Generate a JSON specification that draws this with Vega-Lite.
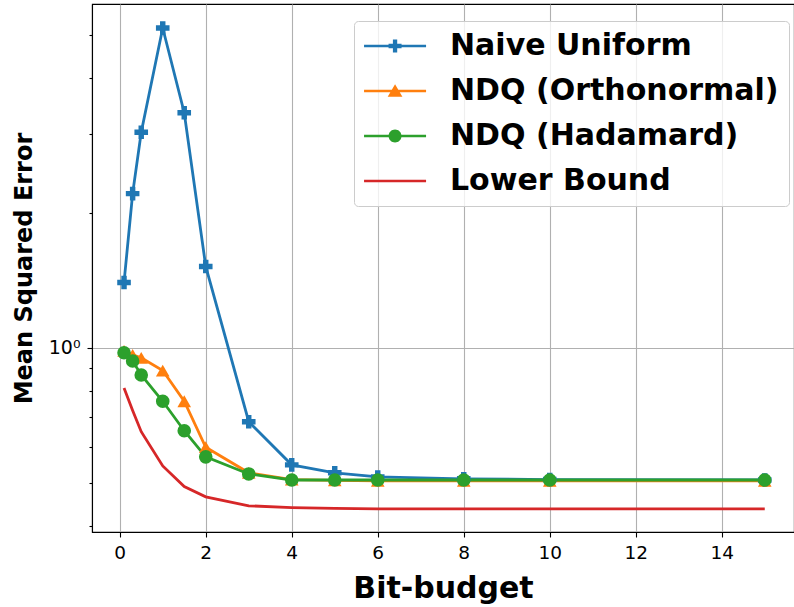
{
  "$schema": "https://vega.github.io/schema/vega-lite/v6.json",
  "width": 702,
  "height": 528,
  "autosize": "none",
  "padding": {"left": 92, "top": 4, "right": 0, "bottom": 75},
  "background": "white",
  "config": {
    "font": "DejaVu Sans",
    "view": {"stroke": "black", "strokeWidth": 1.1},
    "axis": {
      "domainColor": "black", "tickColor": "black", "labelColor": "black", "titleColor": "black",
      "labelFont": "DejaVu Sans", "titleFont": "DejaVu Sans",
      "gridColor": "#b0b0b0", "gridWidth": 1.1, "domainWidth": 1.1, "tickWidth": 1.1
    }
  },
  "data": {
    "values": [
      {"series": "Naive Uniform", "x": 0.1, "y": 1.40},
      {"series": "Naive Uniform", "x": 0.3, "y": 2.21},
      {"series": "Naive Uniform", "x": 0.5, "y": 3.03},
      {"series": "Naive Uniform", "x": 1, "y": 5.18},
      {"series": "Naive Uniform", "x": 1.5, "y": 3.35},
      {"series": "Naive Uniform", "x": 2, "y": 1.52},
      {"series": "Naive Uniform", "x": 3, "y": 0.684},
      {"series": "Naive Uniform", "x": 4, "y": 0.548},
      {"series": "Naive Uniform", "x": 5, "y": 0.526},
      {"series": "Naive Uniform", "x": 6, "y": 0.515},
      {"series": "Naive Uniform", "x": 8, "y": 0.510},
      {"series": "Naive Uniform", "x": 10, "y": 0.508},
      {"series": "Naive Uniform", "x": 15, "y": 0.507},
      {"series": "NDQ (Orthonormal)", "x": 0.1, "y": 0.985},
      {"series": "NDQ (Orthonormal)", "x": 0.3, "y": 0.965},
      {"series": "NDQ (Orthonormal)", "x": 0.5, "y": 0.95},
      {"series": "NDQ (Orthonormal)", "x": 1, "y": 0.89},
      {"series": "NDQ (Orthonormal)", "x": 1.5, "y": 0.76},
      {"series": "NDQ (Orthonormal)", "x": 2, "y": 0.60},
      {"series": "NDQ (Orthonormal)", "x": 3, "y": 0.526},
      {"series": "NDQ (Orthonormal)", "x": 4, "y": 0.508},
      {"series": "NDQ (Orthonormal)", "x": 5, "y": 0.506},
      {"series": "NDQ (Orthonormal)", "x": 6, "y": 0.505},
      {"series": "NDQ (Orthonormal)", "x": 8, "y": 0.505},
      {"series": "NDQ (Orthonormal)", "x": 10, "y": 0.505},
      {"series": "NDQ (Orthonormal)", "x": 15, "y": 0.505},
      {"series": "NDQ (Hadamard)", "x": 0.1, "y": 0.975},
      {"series": "NDQ (Hadamard)", "x": 0.3, "y": 0.935},
      {"series": "NDQ (Hadamard)", "x": 0.5, "y": 0.87},
      {"series": "NDQ (Hadamard)", "x": 1, "y": 0.76},
      {"series": "NDQ (Hadamard)", "x": 1.5, "y": 0.653},
      {"series": "NDQ (Hadamard)", "x": 2, "y": 0.571},
      {"series": "NDQ (Hadamard)", "x": 3, "y": 0.523},
      {"series": "NDQ (Hadamard)", "x": 4, "y": 0.507},
      {"series": "NDQ (Hadamard)", "x": 5, "y": 0.507},
      {"series": "NDQ (Hadamard)", "x": 6, "y": 0.507},
      {"series": "NDQ (Hadamard)", "x": 8, "y": 0.507},
      {"series": "NDQ (Hadamard)", "x": 10, "y": 0.507},
      {"series": "NDQ (Hadamard)", "x": 15, "y": 0.507},
      {"series": "Lower Bound", "x": 0.1, "y": 0.814},
      {"series": "Lower Bound", "x": 0.3, "y": 0.725},
      {"series": "Lower Bound", "x": 0.5, "y": 0.65},
      {"series": "Lower Bound", "x": 1, "y": 0.545},
      {"series": "Lower Bound", "x": 1.5, "y": 0.49},
      {"series": "Lower Bound", "x": 2, "y": 0.465},
      {"series": "Lower Bound", "x": 3, "y": 0.444},
      {"series": "Lower Bound", "x": 4, "y": 0.44},
      {"series": "Lower Bound", "x": 5, "y": 0.438},
      {"series": "Lower Bound", "x": 6, "y": 0.437},
      {"series": "Lower Bound", "x": 8, "y": 0.437},
      {"series": "Lower Bound", "x": 10, "y": 0.437},
      {"series": "Lower Bound", "x": 15, "y": 0.437}
    ]
  },
  "encoding": {
    "x": {
      "field": "x", "type": "quantitative",
      "scale": {"domain": [-0.645, 15.68], "nice": false, "zero": false},
      "axis": {
        "values": [0, 2, 4, 6, 8, 10, 12, 14],
        "title": "Bit-budget", "titleFontSize": 30, "titleFontWeight": "bold",
        "labelFontSize": 18.5, "tickSize": 5, "labelPadding": 6, "titlePadding": 12,
        "grid": true, "labelFlush": false
      }
    },
    "y": {
      "field": "y", "type": "quantitative",
      "scale": {"type": "log", "domain": [0.388, 5.86], "nice": false},
      "axis": {
        "values": [0.4, 0.5, 0.6, 0.7, 0.8, 0.9, 1, 2, 3, 4, 5],
        "labelExpr": "datum.value == 1 ? '10⁰' : ''",
        "title": "Mean Squared Error", "titleFontSize": 24, "titleFontWeight": "bold",
        "labelFontSize": 19, "labelPadding": 7, "titlePadding": 12,
        "tickSize": {"condition": {"test": "datum.value == 1", "value": 5}, "value": 3},
        "grid": true,
        "gridOpacity": {"condition": {"test": "datum.value == 1", "value": 1}, "value": 0}
      }
    },
    "color": {
      "field": "series", "type": "nominal",
      "scale": {
        "domain": ["Naive Uniform", "NDQ (Orthonormal)", "NDQ (Hadamard)", "Lower Bound"],
        "range": ["#1f77b4", "#ff7f0e", "#2ca02c", "#d62728"]
      },
      "legend": {
        "orient": "none", "legendX": 262, "legendY": 17, "title": null,
        "padding": 10, "fillColor": "rgba(255,255,255,0.8)", "strokeColor": "#cccccc",
        "cornerRadius": 4,
        "labelFont": "DejaVu Sans", "labelFontWeight": "bold", "labelFontSize": 30,
        "labelColor": "black", "labelLimit": 600, "labelOffset": 56,
        "symbolSize": 169, "symbolStrokeWidth": 0, "rowPadding": 15,
        "encode": {
          "symbols": {
            "update": {
              "shape": {"signal": "datum.value === 'Naive Uniform' ? 'M-2.3,-0.2H7.24V0.2H-2.3Z M2.14,-1H2.8V-0.33H3.47V0.33H2.8V1H2.14V0.33H1.47V-0.33H2.14Z' : datum.value === 'NDQ (Orthonormal)' ? 'M-2.3,-0.2H7.24V0.2H-2.3Z M2.47,-1.05L3.6,0.9L1.34,0.9Z' : datum.value === 'NDQ (Hadamard)' ? 'M-2.3,-0.2H7.24V0.2H-2.3Z M1.47,0A1,1,0,1,1,3.47,0A1,1,0,1,1,1.47,0Z' : 'M-2.3,-0.2H7.24V0.2H-2.3Z'"},
              "fill": {"scale": "color", "field": "value"},
              "strokeWidth": {"value": 0},
              "opacity": {"value": 1}
            }
          }
        }
      }
    }
  },
  "layer": [
    {
      "mark": {"type": "line", "strokeWidth": 2.8}
    },
    {
      "transform": [{"filter": "datum.series !== 'Lower Bound'"}],
      "mark": {"type": "point", "filled": true, "size": 185, "opacity": 1},
      "encoding": {
        "shape": {
          "field": "series", "type": "nominal",
          "scale": {"domain": ["Naive Uniform", "NDQ (Orthonormal)", "NDQ (Hadamard)"], "range": ["cross", "triangle-up", "circle"]},
          "legend": null
        }
      }
    }
  ]
}
